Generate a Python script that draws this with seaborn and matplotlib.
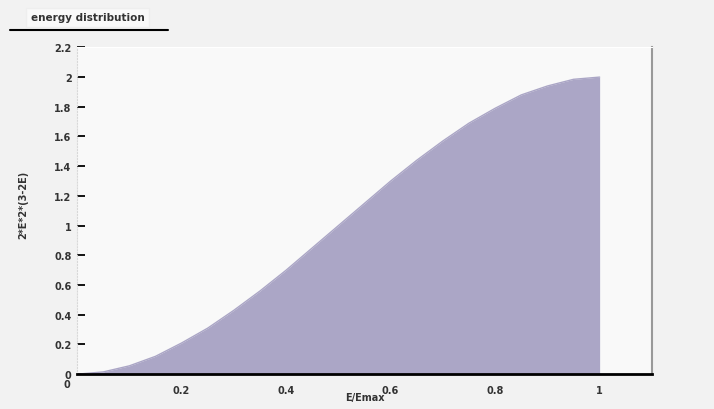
import numpy as np
import pandas as pd
import matplotlib
matplotlib.use("Agg")
import matplotlib.pyplot as plt
import seaborn as sns
from matplotlib.lines import Line2D

# values (E/Emax vs 2*E^2*(3-2E))
e_ratio = [0.0, 0.05, 0.10, 0.15, 0.20, 0.25, 0.30, 0.35, 0.40, 0.45, 0.50,
           0.55, 0.60, 0.65, 0.70, 0.75, 0.80, 0.85, 0.90, 0.95, 1.0]
density = [0.0, 0.015, 0.056, 0.12, 0.21, 0.31, 0.43, 0.56, 0.70, 0.85, 1.0,
           1.15, 1.30, 1.44, 1.57, 1.69, 1.79, 1.88, 1.94, 1.985, 2.0]
x_ticks = [0.2, 0.4, 0.6, 0.8, 1.0]
x_tick_labels = ["0.2", "0.4", "0.6", "0.8", "1"]
y_ticks = [0, 0.2, 0.4, 0.6, 0.8, 1.0, 1.2, 1.4, 1.6, 1.8, 2.0, 2.2]
y_tick_labels = ["0", "0.2", "0.4", "0.6", "0.8", "1", "1.2", "1.4",
                 "1.6", "1.8", "2", "2.2"]

df = pd.DataFrame({"E/Emax": e_ratio, "f": density})

sns.set_style("white")
plt.rcParams["font.family"] = ["DejaVu Sans"]

fill_col = "#aba6c6"

fig = plt.figure(figsize=(7.14, 4.10), dpi=100, facecolor="#f2f2f2")
ax = fig.add_axes([0.108, 0.085, 0.805, 0.797])
ax.set_facecolor("#f9f9f9")

ax.fill_between(df["E/Emax"], df["f"], 0, color=fill_col, linewidth=0)
sns.lineplot(data=df, x="E/Emax", y="f", ax=ax, color=fill_col, linewidth=1)

ax.set_xlim(0, 1.1)
ax.set_ylim(0, 2.2)
ax.set_xticks(x_ticks)
ax.set_xticklabels(x_tick_labels, fontsize=7, fontweight="bold", color="#333333")
ax.set_yticks(y_ticks)
ax.set_yticklabels(y_tick_labels, fontsize=7, fontweight="bold", color="#333333")
ax.tick_params(axis="y", left=True, direction="in", length=6, width=1.3,
               color="black", pad=4)
ax.tick_params(axis="x", bottom=False, pad=4)

ax.set_xlabel("E/Emax", fontsize=7, fontweight="bold", color="#333333")
ax.xaxis.set_label_coords(0.5, -0.055)
ax.set_ylabel("2*E*2*(3-2E)", fontsize=7, fontweight="bold", color="#333333")
ax.yaxis.set_label_coords(-0.085, 0.52)

for side in ["top", "right", "left", "bottom"]:
    ax.spines[side].set_visible(True)
ax.spines["bottom"].set_color("black")
ax.spines["bottom"].set_linewidth(2)
ax.spines["left"].set_color("#d8d8d8")
ax.spines["left"].set_linestyle(":")
ax.spines["right"].set_color("#999999")
ax.spines["right"].set_linewidth(1.5)
ax.spines["top"].set_color("#ffffff")

ax.text(-0.012, -0.03, "0", transform=ax.transAxes, fontsize=7,
        fontweight="bold", color="#333333", ha="right", va="center")

# title box
fig.text(0.123, 0.955, "energy distribution", fontsize=7.5, fontweight="bold",
         color="#333333", ha="center", va="center",
         bbox=dict(boxstyle="square,pad=0.45", facecolor="#f9f9f9",
                   edgecolor="#eeeeee"))
fig.add_artist(Line2D([0.014, 0.235], [0.925, 0.925], color="black",
                      linewidth=1.5, transform=fig.transFigure))

fig.savefig("out.png", dpi=100, facecolor=fig.get_facecolor())
